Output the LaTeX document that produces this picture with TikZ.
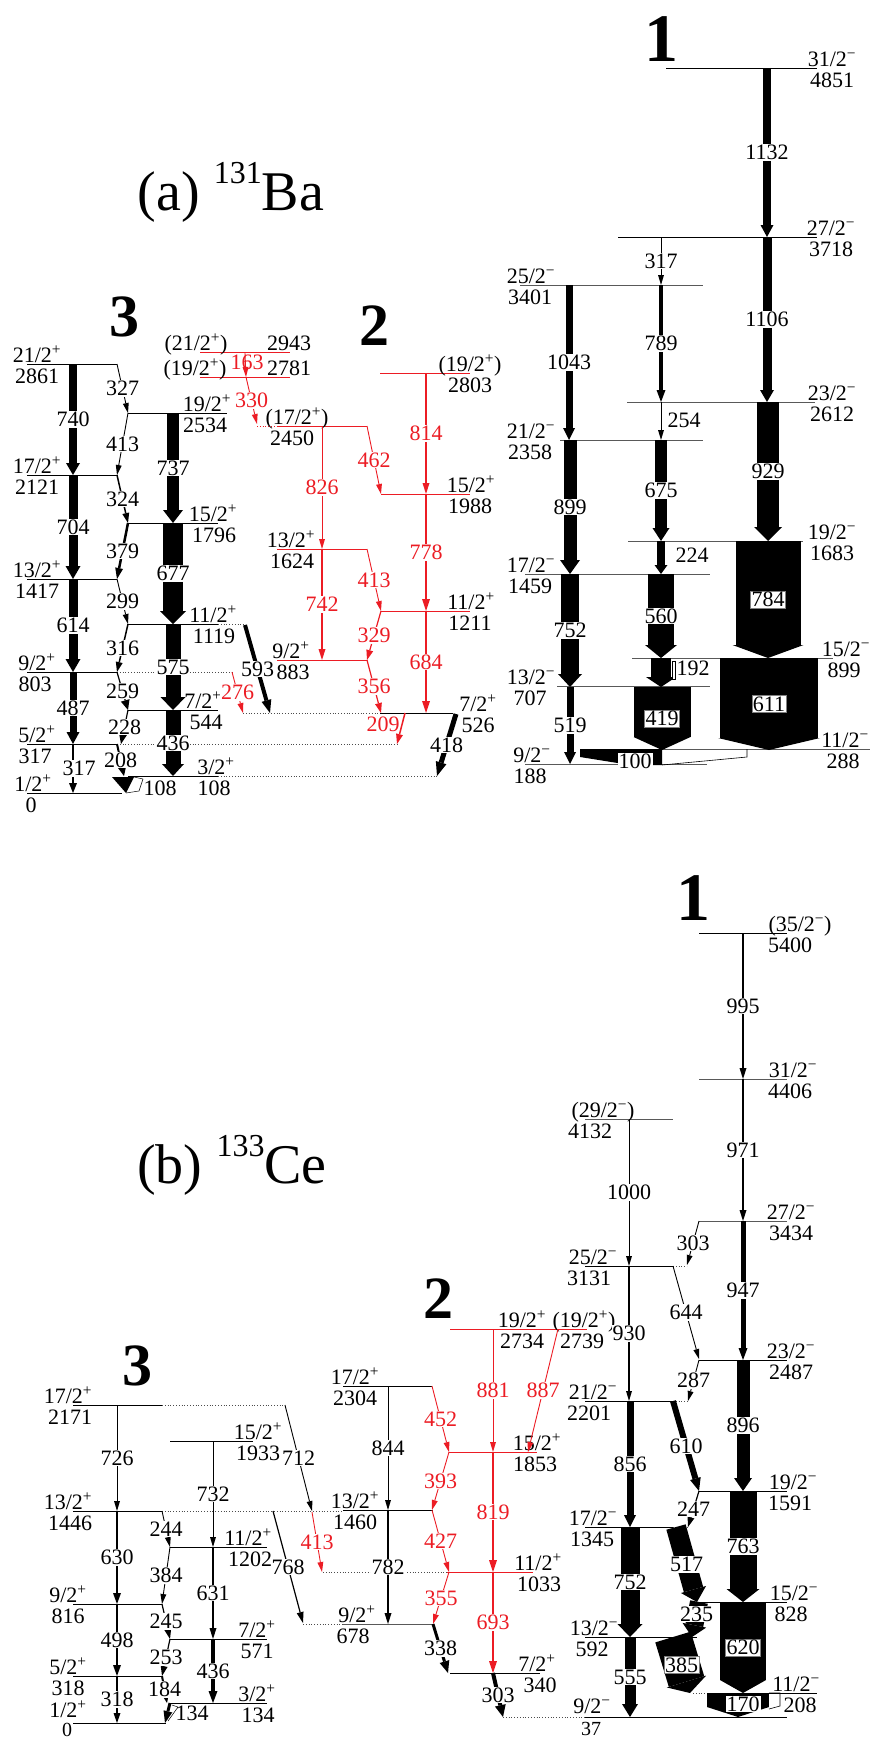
\documentclass[tikz,border=0pt]{standalone}
\usepackage{fontspec}
\setmainfont{Liberation Serif}
\usepackage{tikz}
\usetikzlibrary{arrows.meta}
\definecolor{schemered}{RGB}{236,28,36}

\newcommand{\spinp}[1]{#1/2\textsuperscript{+}}
\newcommand{\spinm}[1]{#1/2\textsuperscript{\char"2212}}
% [style]{name}{x1}{x2}{y}{spin x}{energy x}{spin}{energy}
\newcommand{\schemelevel}[9][level]{%
  \draw[#1] (#3,#5) -- (#4,#5);
  \node[jlab] (#2j) at (#6,#5) {#8};
  \node[elab] (#2e) at (#7,#5) {#9};}

\tikzset{
    scheme/.style={
        x=1pt, y=-1pt,
        font=\fontsize{22}{24}\selectfont,
        level/.style={line width=0.8pt},
        grey_level/.style={line width=0.8pt, black!65},
        red_level/.style={line width=0.8pt, schemered},
        ext/.style={line width=0.8pt, dotted, black!70},
        gam/.style n args={3}{line width=##1pt, -{Triangle[length=##3pt, width=##2pt, line width=0pt]}},
        weak/.style={gam={0.9}{6}{10}},
        glab/.style={midway, fill=white, inner sep=0.8pt},
        boxlab/.style={fill=white, draw=black!50, line width=0.4pt, inner sep=1pt},
        jlab/.style={anchor=base, yshift=1.5pt, inner sep=0pt},
        elab/.style={anchor=base, yshift=-19pt, inner sep=0pt},
        low_elab/.style={anchor=base, inner sep=0pt, font=\fontsize{20}{22}\selectfont},
        band/.style={anchor=base, font=\fontsize{60}{60}\selectfont\bfseries},
        bigband/.style={anchor=base, font=\fontsize{68}{68}\selectfont\bfseries},
        title/.style={anchor=base, font=\fontsize{56}{60}\selectfont}
    }
}

\begin{document}
\begin{tikzpicture}[scheme]
    \useasboundingbox (0,0) rectangle (873,1737);

    % ===== (a) 131Ba =====
    \node[title] (titlea) at (231,210) {(a) \raisebox{27pt}{\fontsize{32}{32}\selectfont 131}Ba};
    \node[band] (banda3) at (124,336) {3};
    \node[band] (banda2) at (374,345) {2};
    \node[bigband] (banda1) at (661,62) {1};

    % Band 3 levels
    \schemelevel{a2861}{27}{117}{364}{37}{37}{\spinp{21}}{2861}
    \schemelevel{a2121}{27}{117}{475}{37}{37}{\spinp{17}}{2121}
    \schemelevel{a1417}{27}{117}{579}{37}{37}{\spinp{13}}{1417}
    \schemelevel{a803}{27}{117}{672}{37}{35}{\spinp{9}}{803}
    \schemelevel{a317}{27}{117}{744}{37}{35}{\spinp{5}}{317}
    \schemelevel{a0}{27}{122}{793}{33}{31}{\spinp{1}}{0}
    \schemelevel{a2534}{128}{227}{413}{207}{205}{\spinp{19}}{2534}
    \schemelevel{a1796}{128}{218}{523}{213}{214}{\spinp{15}}{1796}
    \schemelevel{a1119}{128}{218}{624}{213}{214}{\spinp{11}}{1119}
    \schemelevel{a544}{128}{218}{710}{203}{206}{\spinp{7}}{544}
    \schemelevel{a108}{128}{218}{776}{216}{214}{\spinp{3}}{108}
    \draw[ext] (117,672) -- (232,672);
    \draw[ext] (117,744) -- (398,744);
    \draw[ext] (218,624) -- (245,624);
    \draw[ext] (218,776) -- (437,776);
    \draw[ext] (243,713) -- (380,713);

    % Band 3 transitions
    \draw[gam={8}{14}{12}] (73,364) -- (73,475) node[glab] (a740) {740};
    \draw[gam={9}{15}{13}] (73,475) -- (73,579) node[glab] (a704) {704};
    \draw[gam={9}{15}{13}] (73,579) -- (73,672) node[glab] (a614) {614};
    \draw[gam={7}{13}{12}] (73,672) -- (73,744) node[glab] (a487) {487};
    \draw[gam={2}{8}{10}] (73,744) -- (73,793) node[glab, xshift=6pt] (a317g) {317};
    \draw[weak] (117,364) -- (128,413) node[glab] (a327) {327};
    \draw[weak] (128,413) -- (117,475) node[glab] (a413) {413};
    \draw[gam={1.5}{7}{10}] (117,475) -- (128,523) node[glab] (a324) {324};
    \draw[gam={2.5}{8}{11}] (128,523) -- (117,579) node[glab] (a379) {379};
    \draw[weak] (117,579) -- (128,624) node[glab] (a299) {299};
    \draw[gam={1.5}{7}{10}] (128,624) -- (117,672) node[glab] (a316) {316};
    \draw[gam={1.2}{9}{10}] (117,672) -- (128,710) node[glab] (a259) {259};
    \draw[gam={1.2}{8}{10}] (128,710) -- (121,744) node[glab] (a228) {228};
    \draw[gam={2}{10}{11}] (117,744) -- (124,776) node[glab] (a208) {208};
    \draw[gam={12}{20}{13}] (173,413) -- (173,523) node[glab] (a737) {737};
    \draw[gam={20}{26}{13}] (173,523) -- (173,624) node[glab] (a677) {677};
    \draw[gam={15}{25}{13}] (173,624) -- (173,710) node[glab] (a575) {575};
    \draw[gam={15}{22}{12}] (173,710) -- (173,776) node[glab] (a436) {436};
    \draw[gam={4}{10}{13}] (245,625) -- (270,713) node[glab] (a593) {593};
    \draw[weak, schemered] (232,672) -- (243,713) node[glab] (a276) {276};
    \fill (112,777) -- (134,777) -- (126,793) -- cycle;
    \draw[line width=0.5pt] (134,777) -- (143,779) -- (139,791) -- (126,793);
    \node[anchor=base] (a108g) at (160,795) {108};

    % Band 2 levels
    \draw[red_level] (200,352) -- (290,352);
    \node[jlab] (a2943j) at (196,352) {(\spinp{21})};
    \node[jlab] (a2943e) at (289,352) {2943};
    \draw[red_level] (200,377) -- (290,377);
    \node[jlab] (a2781j) at (195,377) {(\spinp{19})};
    \node[jlab] (a2781e) at (289,377) {2781};
    \schemelevel[red_level]{a2450}{277}{367}{426}{297}{292}{(\spinp{17})}{2450}
    \draw[red_level, dotted] (257,426) -- (277,426);
    \schemelevel[red_level]{a1624}{277}{367}{549}{291}{292}{\spinp{13}}{1624}
    \schemelevel[red_level]{a883}{277}{367}{660}{291}{293}{\spinp{9}}{883}
    \schemelevel[red_level]{a2803}{380}{470}{373}{470}{470}{(\spinp{19})}{2803}
    \schemelevel[red_level]{a1988}{381}{470}{494}{471}{470}{\spinp{15}}{1988}
    \schemelevel[red_level]{a1211}{381}{470}{611}{471}{470}{\spinp{11}}{1211}
    \schemelevel{a526}{380}{453}{713}{478}{478}{\spinp{7}}{526}

    % Band 2 transitions
    \draw[weak, schemered] (245,353) -- (246,377);
    \node[text=schemered] (a163) at (247,362) {163};
    \draw[weak, schemered] (246,377) -- (257,424) node[glab] (a330) {330};
    \draw[weak, schemered] (322,426) -- (322,549) node[glab] (a826) {826};
    \draw[weak, schemered] (367,426) -- (381,494) node[glab] (a462) {462};
    \draw[gam={1.2}{7}{11}, schemered] (426,373) -- (426,494) node[glab] (a814) {814};
    \draw[gam={1.2}{7}{11}, schemered] (322,549) -- (322,660) node[glab] (a742) {742};
    \draw[weak, schemered] (367,549) -- (381,611) node[glab] (a413r) {413};
    \draw[gam={2}{8}{12}, schemered] (426,494) -- (426,611) node[glab] (a778) {778};
    \draw[gam={1.2}{7}{10}, schemered] (381,611) -- (367,660) node[glab] (a329) {329};
    \draw[gam={1.2}{7}{10}, schemered] (367,660) -- (381,713) node[glab] (a356) {356};
    \draw[gam={2}{8}{12}, schemered] (426,611) -- (426,713) node[glab] (a684) {684};
    \draw[gam={1.5}{7}{10}, schemered] (405,713) -- (397,744);
    \node[text=schemered] (a209) at (383,724) {209};
    \draw[gam={5}{11}{14}] (456,714) -- (437,776) node[glab] (a418) {418};

    % Band 1 levels
    \schemelevel{a4851}{666}{817}{68}{832}{832}{\spinm{31}}{4851}
    \schemelevel{a3718}{618}{817}{237}{831}{831}{\spinm{27}}{3718}
    \schemelevel[grey_level]{a3401}{520}{703}{285}{531}{530}{\spinm{25}}{3401}
    \schemelevel[grey_level]{a2612}{627}{815}{402}{832}{832}{\spinm{23}}{2612}
    \schemelevel[grey_level]{a2358}{560}{703}{440}{531}{530}{\spinm{21}}{2358}
    \schemelevel[grey_level]{a1683}{628}{803}{541}{832}{832}{\spinm{19}}{1683}
    \schemelevel[grey_level]{a1459}{525}{710}{574}{531}{530}{\spinm{17}}{1459}
    \schemelevel[grey_level]{a899}{632}{833}{658}{846}{844}{\spinm{15}}{899}
    \schemelevel[grey_level]{a707}{557}{710}{686}{531}{530}{\spinm{13}}{707}
    \schemelevel[grey_level]{a288}{662}{870}{749}{845}{843}{\spinm{11}}{288}
    \schemelevel[grey_level]{a188}{525}{707}{764}{532}{530}{\spinm{9}}{188}

    % Band 1 transitions
    \draw[gam={8}{13}{12}] (767,68) -- (767,237) node[glab] (a1132) {1132};
    \draw[weak] (661,237) -- (661,285) node[glab] (a317b) {317};
    \draw[gam={9}{14}{12}] (767,237) -- (767,402) node[glab] (a1106) {1106};
    \draw[gam={7}{12}{12}] (569,285) -- (569,440) node[glab] (a1043) {1043};
    \draw[gam={4}{9}{12}] (661,285) -- (661,402) node[glab] (a789) {789};
    \draw[weak] (661,402) -- (661,440);
    \node (a254) at (684,420) {254};
    \draw[gam={22}{28}{14}] (768,402) -- (768,541) node[glab] (a929) {929};
    \draw[gam={13}{20}{14}] (570,440) -- (570,574) node[glab] (a899g) {899};
    \draw[gam={12}{17}{13}] (661,440) -- (661,541) node[glab] (a675) {675};
    \draw[gam={8}{13}{9}] (661,541) -- (661,574);
    \node (a224) at (692,555) {224};
    \draw[gam={65}{71}{13}] (768,541) -- (768,658) node[midway, boxlab] (a784) {784};
    \draw[gam={18}{24}{13}] (570,574) -- (570,687) node[glab] (a752) {752};
    \draw[gam={26}{32}{13}] (661,574) -- (661,658) node[glab] (a560) {560};
    \draw[gam={20}{30}{10}] (661,658) -- (661,687);
    \draw[line width=0.5pt, fill=white] (672,661) rectangle (675,679);
    \node (a192) at (693,668) {192};
    \draw[gam={98}{102}{12}] (769,658) -- (769,750) node[midway, boxlab] (a611) {611};
    \draw[gam={57}{57}{13}] (662,687) -- (662,750) node[midway, boxlab] (a419) {419};
    \draw[gam={7}{12}{12}] (570,687) -- (570,764) node[glab] (a519) {519};
    \fill (580,749) -- (662,749) -- (662,765) -- (630,765) -- (580,757) -- cycle;
    \draw[line width=0.6pt] (662,765) -- (747,757) -- (747,749);
    \node[boxlab, draw=none] (a100) at (635,761) {100};

    % ===== (b) 133Ce =====
    \node[title] (titleb) at (232,1183) {(b) \raisebox{27pt}{\fontsize{32}{32}\selectfont 133}Ce};
    \node[band] (bandb3) at (137,1385) {3};
    \node[band] (bandb2) at (438,1318) {2};
    \node[bigband] (bandb1) at (693,920) {1};

    % Band 3 levels
    \schemelevel{b2171}{73}{162}{1405}{68}{70}{\spinp{17}}{2171}
    \schemelevel{b1446}{73}{162}{1511}{68}{70}{\spinp{13}}{1446}
    \schemelevel{b816}{73}{162}{1604}{68}{68}{\spinp{9}}{816}
    \schemelevel{b318}{73}{162}{1676}{68}{68}{\spinp{5}}{318}
    \draw[level] (73,1723) -- (166,1723);
    \node[jlab, yshift=4pt] (b0j) at (68,1723) {\spinp{1}};
    \node[low_elab] (b0e) at (67,1736) {0};
    \schemelevel{b1933}{170}{253}{1441}{258}{258}{\spinp{15}}{1933}
    \schemelevel{b1202}{170}{267}{1547}{248}{250}{\spinp{11}}{1202}
    \schemelevel{b571}{170}{267}{1639}{257}{257}{\spinp{7}}{571}
    \schemelevel{b134}{170}{267}{1703}{257}{258}{\spinp{3}}{134}
    \draw[ext] (162,1405) -- (285,1405);
    \draw[ext] (162,1511) -- (343,1511);

    % Band 3 transitions
    \draw[weak] (117,1405) -- (117,1511) node[glab] (b726) {726};
    \draw[weak] (285,1405) -- (312,1511) node[glab] (b712) {712};
    \draw[weak] (213,1441) -- (213,1547) node[glab] (b732) {732};
    \draw[gam={2.5}{8}{11}] (117,1511) -- (117,1604) node[glab] (b630) {630};
    \draw[weak] (162,1511) -- (170,1547) node[glab] (b244) {244};
    \draw[gam={1.2}{7}{11}] (273,1511) -- (303,1623) node[glab] (b768) {768};
    \draw[weak] (170,1547) -- (162,1604) node[glab] (b384) {384};
    \draw[gam={1.2}{7}{11}] (213,1547) -- (213,1639) node[glab] (b631) {631};
    \draw[gam={1.2}{7}{10}] (162,1604) -- (170,1639) node[glab] (b245) {245};
    \draw[gam={2.5}{8}{11}] (117,1604) -- (117,1676) node[glab] (b498) {498};
    \draw[gam={3.5}{9}{12}] (213,1639) -- (213,1703) node[glab] (b436) {436};
    \draw[gam={1.2}{7}{10}] (170,1639) -- (162,1676) node[glab] (b253) {253};
    \draw[gam={1.5}{7}{10}] (117,1676) -- (117,1723) node[glab] (b318g) {318};
    \draw[gam={2}{8}{10}] (162,1676) -- (167,1703) node[glab] (b184) {184};
    \draw[gam={3}{9}{12}] (170,1703) -- (165,1723);
    \draw[line width=0.5pt] (172,1705) -- (178,1707) -- (168,1721);
    \node (b134g) at (192,1713) {134};

    % Band 2 levels
    \schemelevel{b2304}{343}{432}{1386}{355}{355}{\spinp{17}}{2304}
    \schemelevel{b1460}{343}{433}{1510}{355}{355}{\spinp{13}}{1460}
    \schemelevel[grey_level]{b678}{343}{433}{1624}{357}{353}{\spinp{9}}{678}
    \draw[ext] (303,1624) -- (343,1624);
    \schemelevel[red_level]{b2734}{450}{550}{1329}{522}{522}{\spinp{19}}{2734}
    \schemelevel[red_level]{b2739}{550}{587}{1329}{584}{582}{(\spinp{19})}{2739}
    \schemelevel[red_level]{b1853}{449}{537}{1452}{537}{535}{\spinp{15}}{1853}
    \schemelevel[red_level]{b1033}{447}{533}{1572}{538}{539}{\spinp{11}}{1033}
    \draw[ext] (323,1572) -- (447,1572);
    \schemelevel{b340}{450}{540}{1673}{537}{540}{\spinp{7}}{340}

    % Band 2 transitions
    \draw[weak] (388,1386) -- (388,1510) node[glab] (b844) {844};
    \draw[weak, schemered] (432,1386) -- (449,1452) node[glab] (b452) {452};
    \draw[weak, schemered] (493,1329) -- (493,1452) node[glab] (b881) {881};
    \draw[weak, schemered] (558,1329) -- (528,1452) node[glab] (b887) {887};
    \draw[weak, schemered] (449,1452) -- (432,1510) node[glab] (b393) {393};
    \draw[gam={1.8}{8}{12}, schemered] (493,1452) -- (493,1572) node[glab] (b819) {819};
    \draw[gam={1.2}{7}{11}] (388,1510) -- (388,1624) node[glab] (b782) {782};
    \draw[weak, schemered] (312,1512) -- (322,1572) node[glab] (b413) {413};
    \draw[weak, schemered] (432,1510) -- (449,1572) node[glab] (b427) {427};
    \draw[weak, schemered] (449,1572) -- (433,1624) node[glab] (b355) {355};
    \draw[gam={2}{8}{12}, schemered] (493,1572) -- (493,1673) node[glab] (b693) {693};
    \draw[gam={3}{10}{12}] (433,1624) -- (448,1673) node[glab] (b338) {338};
    \draw[gam={4}{11}{12}] (493,1673) -- (503,1717) node[glab] (b303) {303};

    % Band 1 levels
    \schemelevel{b5400}{699}{787}{933}{800}{790}{(\spinm{35})}{5400}
    \schemelevel[grey_level]{b4406}{699}{787}{1079}{793}{790}{\spinm{31}}{4406}
    \schemelevel[grey_level]{b4132}{585}{673}{1119}{603}{590}{(\spinm{29})}{4132}
    \schemelevel[grey_level]{b3434}{699}{787}{1221}{791}{791}{\spinm{27}}{3434}
    \schemelevel{b3131}{585}{673}{1266}{593}{589}{\spinm{25}}{3131}
    \draw[ext] (673,1266) -- (687,1266);
    \schemelevel{b2487}{699}{787}{1360}{791}{791}{\spinm{23}}{2487}
    \schemelevel{b2201}{585}{673}{1401}{593}{589}{\spinm{21}}{2201}
    \draw[ext] (673,1401) -- (688,1401);
    \schemelevel{b1591}{699}{787}{1491}{793}{790}{\spinm{19}}{1591}
    \schemelevel{b1345}{585}{673}{1527}{593}{592}{\spinm{17}}{1345}
    \draw[ext] (673,1527) -- (688,1527);
    \schemelevel{b828}{699}{787}{1602}{794}{791}{\spinm{15}}{828}
    \schemelevel{b592}{585}{697}{1637}{594}{592}{\spinm{13}}{592}
    \schemelevel{b208}{710}{817}{1693}{796}{800}{\spinm{11}}{208}
    \draw[ext] (693,1693) -- (710,1693);
    \draw[level] (585,1717) -- (787,1717);
    \node[jlab, yshift=2pt] (b37j) at (592,1717) {\spinm{9}};
    \node[low_elab] (b37e) at (591,1735) {37};
    \draw[ext] (503,1717) -- (585,1717);

    % Band 1 transitions
    \draw[gam={1.5}{7}{11}] (743,933) -- (743,1079) node[glab] (b995) {995};
    \draw[gam={2}{7}{11}] (743,1079) -- (743,1221) node[glab] (b971) {971};
    \draw[weak] (629,1119) -- (629,1266) node[glab] (b1000) {1000};
    \draw[weak] (699,1221) -- (687,1265) node[glab] (b303b) {303};
    \draw[gam={5}{9}{12}] (743,1221) -- (743,1360) node[glab] (b947) {947};
    \draw[gam={1.2}{6}{10}] (629,1266) -- (629,1401) node[glab] (b930) {930};
    \draw[weak] (673,1266) -- (699,1359) node[glab] (b644) {644};
    \draw[weak] (699,1360) -- (688,1401) node[glab] (b287) {287};
    \draw[gam={13}{18}{13}] (743,1360) -- (743,1491) node[glab] (b896) {896};
    \draw[gam={7}{12}{12}] (630,1401) -- (630,1527) node[glab] (b856) {856};
    \draw[gam={6}{11}{13}] (673,1401) -- (699,1491) node[glab] (b610) {610};
    \draw[gam={1.2}{7}{10}] (699,1491) -- (688,1527) node[glab] (b247) {247};
    \draw[gam={27}{33}{13}] (743,1491) -- (743,1602) node[glab] (b763) {763};
    \draw[gam={19}{25}{13}] (630,1527) -- (630,1637) node[glab] (b752) {752};
    \draw[gam={20}{26}{13}] (676,1527) -- (697,1602) node[glab] (b517) {517};
    \draw[gam={18}{24}{12}] (699,1602) -- (692,1637) node[glab, pos=0.35] (b235) {235};
    \draw[gam={46}{46}{13}] (743,1602) -- (743,1693) node[midway, boxlab] (b620) {620};
    \draw[gam={37}{41}{12}] (673,1637) -- (690,1693) node[midway, boxlab] (b385) {385};
    \draw[gam={11}{16}{13}] (630,1637) -- (630,1717) node[glab] (b555) {555};
    \draw[gam={62}{62}{10}] (738,1693) -- (738,1717);
    \draw[line width=0.6pt] (769,1693) -- (780,1693) -- (780,1706) -- (769,1709);
    \node[boxlab, draw=none] (b170) at (743,1704) {170};

\end{tikzpicture}
\end{document}
